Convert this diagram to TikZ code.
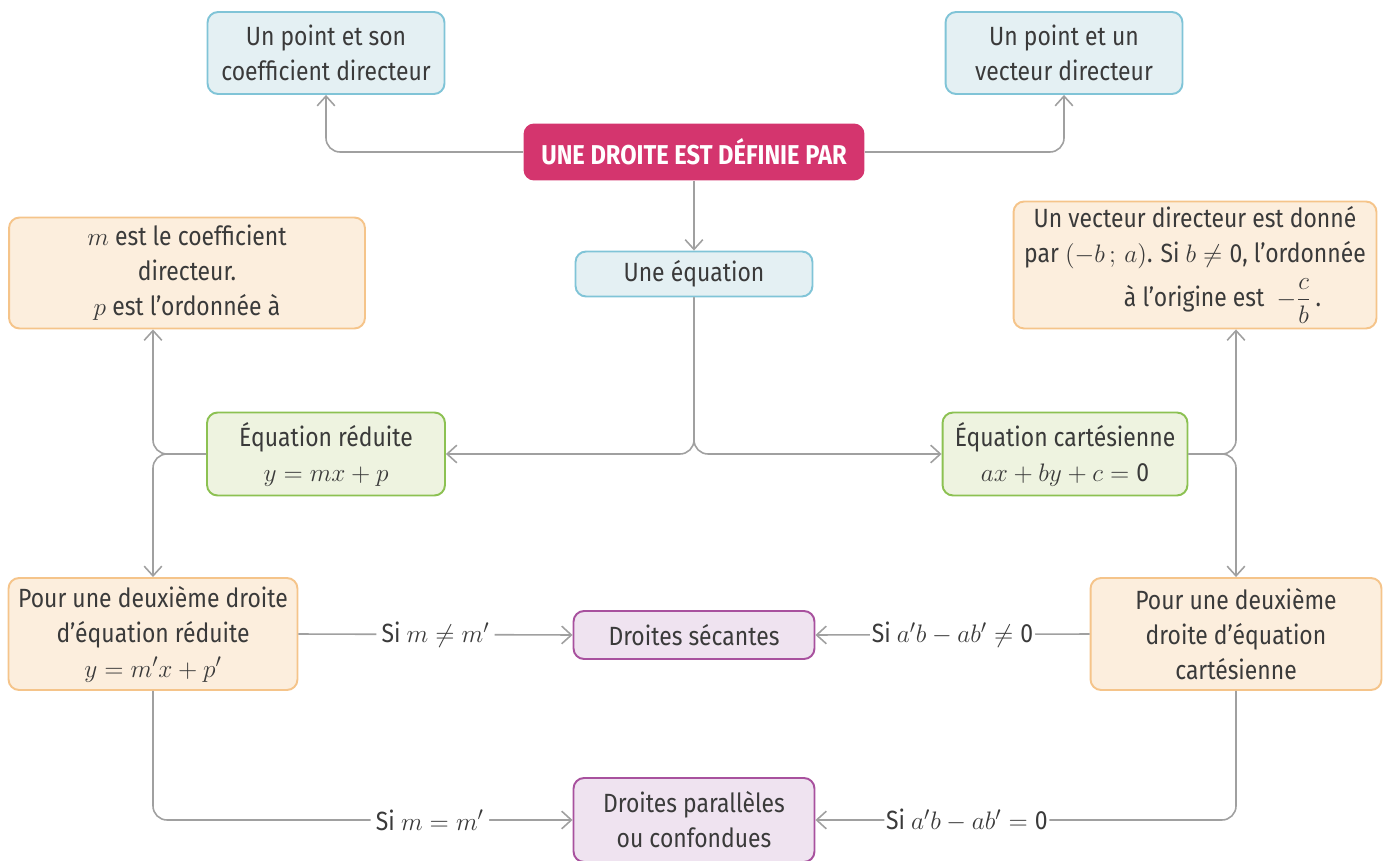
\documentclass[tikz,border=0pt]{standalone}
\usepackage{fontspec}
\setmainfont{Fira Sans}[FakeStretch=0.87]
\usepackage{amsmath}
\usepackage{xcolor}
\usetikzlibrary{arrows.meta, positioning}
\definecolor{txt}{HTML}{3A3A3A}
\definecolor{ln}{HTML}{A0A0A0}
\definecolor{bluefill}{HTML}{E4F0F3}
\definecolor{blueline}{HTML}{80C4D7}
\definecolor{titlefill}{HTML}{D4356E}
\definecolor{orfill}{HTML}{FCEEDD}
\definecolor{orline}{HTML}{F5C48A}
\definecolor{grfill}{HTML}{EEF3E0}
\definecolor{grline}{HTML}{8CC152}
\definecolor{pufill}{HTML}{EFE3F0}
\definecolor{puline}{HTML}{A8519E}

\begin{document}
\begin{tikzpicture}[x=0.02cm, y=-0.02cm, text=txt,
  font=\fontsize{15}{19.9}\selectfont,
  box/.style = {rectangle, rounded corners=6pt, line width=1.1pt, align=center, inner sep=2pt},
  blue/.style = {box, draw=blueline, fill=bluefill},
  orange/.style = {box, draw=orline, fill=orfill},
  green/.style = {box, draw=grline, fill=grfill},
  purple/.style = {box, draw=puline, fill=pufill},
  conn/.style = {draw=ln, line width=0.9pt, rounded corners=8pt, -{Straight Barb[length=5.5pt,width=10pt]}},
  lbl/.style = {fill=white, inner sep=3pt, text=txt}] 
      \useasboundingbox (0,0) rectangle (1389,861);

      \node[rectangle, rounded corners=6pt, fill=titlefill, text=white, minimum width=6.82cm, minimum height=1.14cm,
            font=\fontsize{15.5}{19}\selectfont\bfseries] (titre) at (694,152) {UNE DROITE EST DÉFINIE PAR};
      \node[blue, minimum width=4.74cm, minimum height=1.64cm] (pente) at (326,53) {Un point et son\\ coefficient directeur};
      \node[blue, minimum width=4.74cm, minimum height=1.64cm] (vect) at (1064,53) {Un point et un\\ vecteur directeur};
      \node[blue, minimum width=4.74cm, minimum height=0.9cm] (eq) at (694,274) {Une équation};
      \node[orange, minimum width=7.12cm, minimum height=2.22cm] (mp) at (187,273)
            {$m$ est le coefficient\\ directeur.\\ $p$ est l’ordonnée à};
      \node[orange, minimum width=7.26cm, minimum height=2.54cm] (dirv) at (1195,265)
            {Un vecteur directeur est donné\\ par $(-b\,;\,a)$. Si $b\neq\mbox{0}$, l’ordonnée\\[5pt]
             \hspace*{1.1cm}à l’origine est\ \ $-\dfrac{c}{b}$\,.};
      \node[green, minimum width=4.76cm, minimum height=1.66cm] (red) at (326,454) {Équation réduite\\ $y=mx+p$};
      \node[green, minimum width=4.9cm, minimum height=1.66cm] (cart) at (1065,454) {Équation cartésienne\\ $ax+by+c=\mbox{0}$};
      \node[orange, minimum width=5.78cm, minimum height=2.24cm] (deuxr) at (153,634)
            {Pour une deuxième droite\\ d’équation réduite\\ $y=m'x+p'$};
      \node[orange, minimum width=5.82cm, minimum height=2.24cm] (deuxc) at (1236,634)
            {Pour une deuxième\\ droite d’équation\\ cartésienne};
      \node[purple, minimum width=4.82cm, minimum height=0.96cm] (sec) at (694,635) {Droites sécantes};
      \node[purple, minimum width=4.82cm, minimum height=1.68cm] (par) at (694,820) {Droites parallèles\\ ou confondues};

      % du titre vers les trois definitions
      \path[conn] (titre.west) -| (pente.south);
      \path[conn] (titre.east) -| (vect.south);
      \path[conn] (titre.south) -- (eq.north);
      \path[conn] (eq.south) |- (red.east);
      \path[conn] (eq.south) |- (cart.west);

      % equation reduite
      \path[conn] (red.west) -| (deuxr.north |- mp.south);
      \path[conn] (red.west) -| (deuxr.north);

      % equation cartesienne
      \path[conn] (cart.east) -| (deuxc.north |- dirv.south);
      \path[conn] (cart.east) -| (deuxc.north);

      % deux droites
      \path[conn] (deuxr.east) -- node[lbl] {Si $m\neq m'$} (sec.west);
      \path[conn] (deuxc.west) -- node[lbl, inner sep=1pt] {Si $a'b-ab'\neq\mbox{0}$} (sec.east);
      \path[conn] (deuxr.south) |- node[lbl, pos=0.83] {Si $m=m'$} (par.west);
      \path[conn] (deuxc.south) |- node[lbl, inner sep=1pt, pos=0.82] {Si $a'b-ab'=\mbox{0}$} (par.east);
\end{tikzpicture}
\end{document}
